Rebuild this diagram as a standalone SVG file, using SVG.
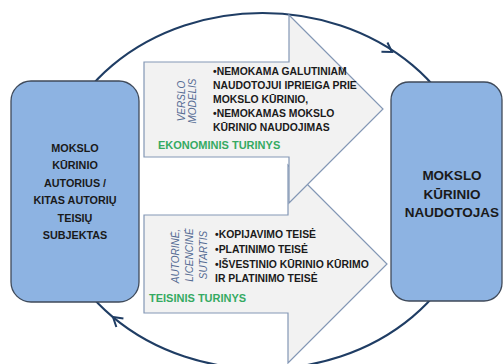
<svg xmlns="http://www.w3.org/2000/svg" width="503" height="364" viewBox="0 0 503 364">
<defs>
<style>
.box{fill:#8db3e2;stroke:#3f4a5a;stroke-width:1.3}
.arrow{fill:#f2f2f2;stroke:#8397b5;stroke-width:1.2}
.cycle{fill:none;stroke:#1f3d64;stroke-width:2}
.head{fill:none;stroke:#1f3d64;stroke-width:2;stroke-linejoin:miter}
.bt{font-family:"Liberation Sans",Arial,sans-serif;font-weight:bold;fill:#1a1a1a;text-anchor:middle}
.bl{font-family:"Liberation Sans",Arial,sans-serif;font-weight:bold;font-size:10.4px;fill:#1a1a1a}
.gr{font-family:"Liberation Sans",Arial,sans-serif;font-weight:bold;font-size:11px;fill:#35aa62}
.vt{font-family:"Liberation Sans",Arial,sans-serif;font-style:italic;font-size:10px;fill:#566c94;text-anchor:middle}
</style>
</defs>
<g id="connectors">
<ellipse class="cycle" cx="262.5" cy="191" rx="212" ry="178"/>
<path class="head" d="M -9 -5.5 L 0 0 L -9 5.5" transform="translate(392 52) rotate(33)"/>
<path class="head" d="M -9 -5.5 L 0 0 L -9 5.5" transform="translate(113 317) rotate(220)"/>
</g>
<g id="legal-arrow">
<path class="arrow" d="M144 215 H288 V165 L387 264 L288 363 V313 H144 Z"/>
<text class="vt" transform="rotate(-90 179 256)" x="179" y="256">AUTORINĖ,</text>
<text class="vt" transform="rotate(-90 193 255)" x="193" y="255">LICENCINĖ</text>
<text class="vt" transform="rotate(-90 206.5 255)" x="206.5" y="255">SUTARTIS</text>
<text class="bl" x="215" y="237.5">•KOPIJAVIMO TEISĖ</text>
<text class="bl" x="215" y="252.5">•PLATINIMO TEISĖ</text>
<text class="bl" x="215" y="267.5">•IŠVESTINIO KŪRINIO KŪRIMO</text>
<text class="bl" x="215" y="281.5">IR PLATINIMO TEISĖ</text>
<text class="gr" x="149" y="301.5">TEISINIS TURINYS</text>
</g>
<g id="economic-arrow">
<path class="arrow" d="M144 62 H289 V15 L383 109 L289 203 V157 H144 Z"/>
<text class="vt" transform="rotate(-90 185 101)" x="185" y="101">VERSLO</text>
<text class="vt" transform="rotate(-90 195.5 101)" x="195.5" y="101">MODELIS</text>
<text class="bl" x="213" y="75">•NEMOKAMA GALUTINIAM</text>
<text class="bl" x="213" y="89">NAUDOTOJUI IPRIEIGA PRIE</text>
<text class="bl" x="213" y="103">MOKSLO KŪRINIO,</text>
<text class="bl" x="213" y="117">•NEMOKAMAS MOKSLO</text>
<text class="bl" x="213" y="131">KŪRINIO NAUDOJIMAS</text>
<text class="gr" x="158" y="148.5">EKONOMINIS TURINYS</text>
</g>
<g id="author">
<rect class="box" x="11" y="81" width="128" height="221" rx="20" ry="20"/>
<text class="bt" font-size="10.8" x="75" y="151.5">MOKSLO</text>
<text class="bt" font-size="10.8" x="75" y="169">KŪRINIO</text>
<text class="bt" font-size="10.8" x="75" y="186.5">AUTORIUS /</text>
<text class="bt" font-size="10.8" x="75" y="204">KITAS AUTORIŲ</text>
<text class="bt" font-size="10.8" x="75" y="221.5">TEISIŲ</text>
<text class="bt" font-size="10.8" x="75" y="239">SUBJEKTAS</text>
</g>
<g id="user">
<rect class="box" x="391" y="82" width="111" height="219" rx="18" ry="18"/>
<text class="bt" font-size="13.5" x="452" y="180">MOKSLO</text>
<text class="bt" font-size="13.5" x="452" y="198.5">KŪRINIO</text>
<text class="bt" font-size="13.5" x="452" y="217">NAUDOTOJAS</text>
</g>
</svg>
